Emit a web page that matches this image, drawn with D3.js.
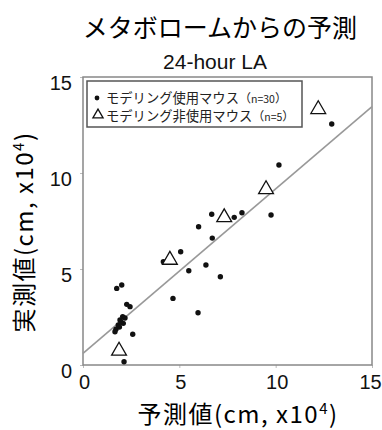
<!DOCTYPE html>
<html>
<head>
<meta charset="utf-8">
<script src="https://cdn.jsdelivr.net/npm/d3@7"></script>
<style>
  body { margin: 0; background: #fff; }
</style>
</head>
<body>
<svg width="382" height="430"></svg>
<script>
// mice with modeling (n=30): [predicted, measured]
var usedX = [12.91, 10.17, 9.76, 8.25, 7.85, 6.68, 6.0, 6.71, 5.07, 4.17, 5.49, 6.38, 7.13, 4.67, 5.97,
             1.75, 2.01, 2.27, 2.44, 2.06, 1.92, 2.09, 1.83, 1.71, 1.66, 2.58, 2.13, 2.18, 1.89, 1.97];
var usedY = [12.55, 10.42, 7.81, 7.93, 7.69, 7.85, 7.2, 6.61, 5.9, 5.38, 4.91, 5.21, 4.6, 3.47, 2.72,
             3.99, 4.17, 3.16, 3.04, 2.52, 2.34, 2.17, 2.08, 1.86, 1.73, 1.6, 0.17, 2.45, 1.98, 2.24];
// mice without modeling (n=5)
var notUsedX = [12.21, 9.5, 7.33, 4.51, 1.87];
var notUsedY = [13.32, 9.15, 7.69, 5.47, 0.74];
// regression line: intercept, slope
var fit = [0.6, 0.857];
var ticks = [0, 5, 10, 15];
var legendLabels = ["モデリング使用マウス", "モデリング非使用マウス"];
var legendN = ["n=30", "n=5"];

var svg = d3.select("svg");
var pLeft = 83, pRight = 372, pTop = 77, pBottom = 365;
var jp = "'Noto Sans CJK JP', sans-serif";
var latin = "'Liberation Sans', Arial, sans-serif";

var x = d3.scaleLinear().domain([0, 15]).range([pLeft, pRight]);
var y = d3.scaleLinear().domain([0, 15]).range([pBottom, pTop]);

// titles
svg.append("text")
  .attr("x", 220).attr("y", 37)
  .attr("text-anchor", "middle")
  .attr("font-family", jp)
  .attr("font-size", 25)
  .text("メタボロームからの予測");

svg.append("text")
  .attr("x", 215).attr("y", 69)
  .attr("text-anchor", "middle")
  .attr("font-family", latin)
  .attr("font-size", 21)
  .attr("fill", "#111")
  .text("24-hour LA");

// axes
var xAxis = d3.axisBottom(x).tickValues(ticks).tickSize(3).tickPadding(7);
var yAxis = d3.axisLeft(y).tickValues(ticks).tickSize(3).tickPadding(8);

var gx = svg.append("g")
  .attr("transform", "translate(0," + pBottom + ")")
  .call(xAxis);
var gy = svg.append("g")
  .attr("transform", "translate(" + pLeft + ",0)")
  .call(yAxis);

[gx, gy].forEach(function(g) {
  g.select(".domain").remove();
  g.selectAll(".tick line").attr("stroke", "#bbb");
  g.selectAll(".tick text")
    .attr("font-family", latin)
    .attr("font-size", 20)
    .attr("fill", "#111");
});
gy.selectAll(".tick text").attr("dy", "0.62em");
gx.selectAll(".tick text").attr("dx", function(d) { return d == 15 ? -2 : 1; });

// plot frame
svg.append("rect")
  .attr("x", pLeft).attr("y", pTop)
  .attr("width", pRight - pLeft).attr("height", pBottom - pTop)
  .attr("fill", "none")
  .attr("stroke", "#888")
  .attr("stroke-width", 1.5);

// regression line
svg.append("line")
  .attr("x1", x(0)).attr("y1", y(fit[0]))
  .attr("x2", x(15)).attr("y2", y(fit[0] + fit[1] * 15))
  .attr("stroke", "#999")
  .attr("stroke-width", 1.6);

// dots
svg.selectAll(".dot")
  .data(d3.range(usedX.length))
  .enter()
  .append("circle")
  .attr("class", "dot")
  .attr("cx", function(i) { return x(usedX[i]); })
  .attr("cy", function(i) { return y(usedY[i]); })
  .attr("r", 2.7)
  .attr("fill", "#111");

// triangles
var tri = d3.symbol().type(d3.symbolTriangle).size(95);
svg.selectAll(".tri")
  .data(d3.range(notUsedX.length))
  .enter()
  .append("path")
  .attr("class", "tri")
  .attr("d", tri)
  .attr("transform", function(i) {
    return "translate(" + x(notUsedX[i]) + "," + y(notUsedY[i]) + ")";
  })
  .attr("fill", "#fff")
  .attr("stroke", "#111")
  .attr("stroke-width", 1.3);

// legend
var lg = svg.append("g");
lg.append("rect")
  .attr("x", 87).attr("y", 81)
  .attr("width", 215).attr("height", 46)
  .attr("fill", "#fff")
  .attr("stroke", "#555")
  .attr("stroke-width", 1.5);
lg.append("circle")
  .attr("cx", 97).attr("cy", 98).attr("r", 2.4).attr("fill", "#111");
lg.append("path")
  .attr("d", d3.symbol().type(d3.symbolTriangle).size(45))
  .attr("transform", "translate(98,115)")
  .attr("fill", "#fff").attr("stroke", "#111").attr("stroke-width", 1.3);

legendLabels.forEach(function(lab, i) {
  var t = lg.append("text")
    .attr("x", 106).attr("y", 103 + i * 18)
    .attr("font-family", jp)
    .attr("font-size", 13.3)
    .attr("fill", "#222");
  t.append("tspan").text(lab);
  t.append("tspan").attr("font-size", 12).text("（");
  t.append("tspan").attr("font-size", 10.5).text(legendN[i]);
  t.append("tspan").attr("font-size", 12).text("）");
});

// axis titles
var xt = svg.append("text")
  .attr("x", 238).attr("y", 423)
  .attr("text-anchor", "middle")
  .attr("font-family", jp)
  .attr("font-size", 24)
  .attr("letter-spacing", 1.5);
xt.append("tspan").text("予測値(cm, x10");
xt.append("tspan").attr("font-size", 15).attr("dy", -9).text("4");
xt.append("tspan").attr("dy", 9).text(")");

var yt = svg.append("text")
  .attr("transform", "translate(33,232) rotate(-90)")
  .attr("text-anchor", "middle")
  .attr("font-family", jp)
  .attr("font-size", 24)
  .attr("letter-spacing", 1.5);
yt.append("tspan").text("実測値(cm, x10");
yt.append("tspan").attr("font-size", 15).attr("dy", -9).text("4");
yt.append("tspan").attr("dy", 9).text(")");
</script>
</body>
</html>
